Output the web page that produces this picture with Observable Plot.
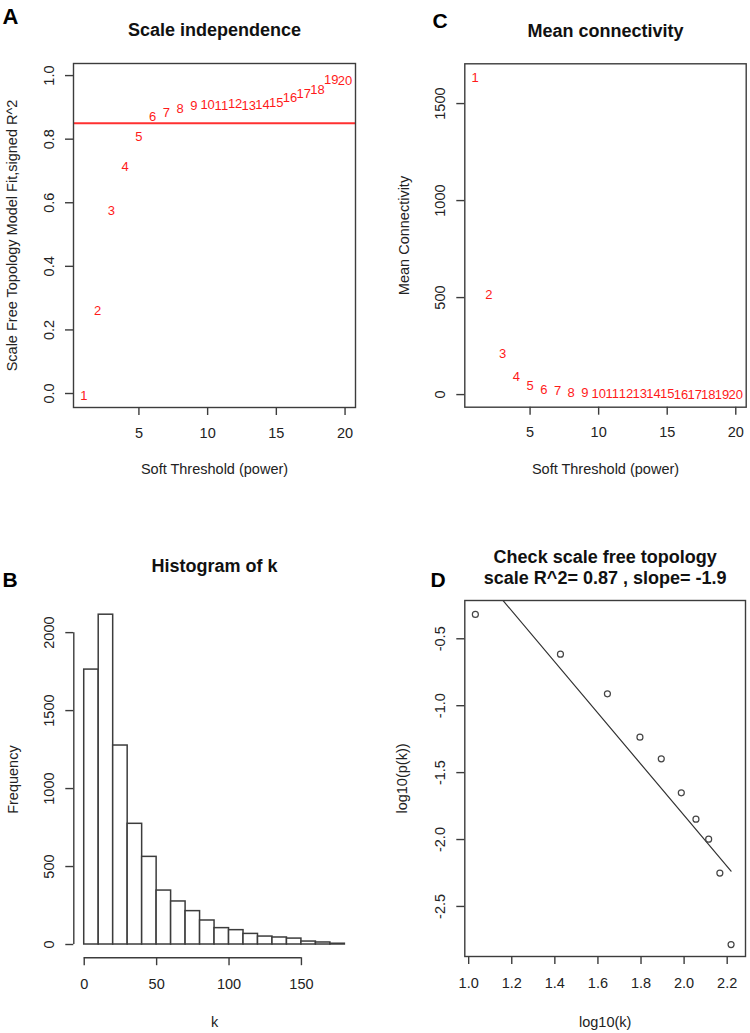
<!DOCTYPE html>
<html>
<head>
<meta charset="utf-8">
<script src="https://cdn.jsdelivr.net/npm/d3@7"></script>
<script src="https://cdn.jsdelivr.net/npm/@observablehq/plot@0.6"></script>
<style>
  body { margin: 0; background: #fff; }
  #wrap { position: relative; width: 750px; height: 1033px; background: #fff; }
  .panel { position: absolute; }
  .panel svg { display: block; overflow: visible; }
</style>
</head>
<body>
<div id="wrap">
  <div class="panel" id="pA" style="left:0;top:0"></div>
  <div class="panel" id="pC" style="left:375px;top:0"></div>
  <div class="panel" id="pB" style="left:0;top:500px"></div>
  <div class="panel" id="pD" style="left:375px;top:500px"></div>
</div>
<script>
// ---------- data ----------
const powers = [1,2,3,4,5,6,7,8,9,10,11,12,13,14,15,16,17,18,19,20];
const signedR2 = [-0.006,0.259,0.575,0.714,0.808,0.869,0.884,0.896,0.905,0.909,0.905,0.911,0.905,0.909,0.915,0.93,0.943,0.956,0.987,0.984];
const meanConnectivity = [1635,515,210,93,46,24,17,11,8,6,4,3,2.5,2,1.5,1.2,1,0.8,0.6,0.5];
const r2Cutoff = 0.85;

const kBreaks = [0,10,20,30,40,50,60,70,80,90,100,110,120,130,140,150,160,170,180];
const kCounts = [1763,2115,1276,774,562,346,276,214,154,105,92,68,51,45,38,19,13,5];

const log10k = [1.031,1.426,1.644,1.795,1.894,1.987,2.055,2.114,2.166,2.218];
const log10pk = [-0.318,-0.615,-0.911,-1.235,-1.397,-1.651,-1.848,-1.997,-2.251,-2.785];

const powerTicks = [5,10,15,20];
const r2Ticks = [0,0.2,0.4,0.6,0.8,1.0];
const connTicks = [0,500,1000,1500];
const kTicks = [0,50,100,150];
const freqTicks = [0,500,1000,1500,2000];
const logkTicks = [1.0,1.2,1.4,1.6,1.8,2.0,2.2];
const logpkTicks = [-0.5,-1.0,-1.5,-2.0,-2.5];

// ---------- tables ----------
const sft = powers.map((p,i) => ({power: p, r2: signedR2[i], k: meanConnectivity[i]}));
const hist = kCounts.map((c,i) => ({x0: kBreaks[i], x1: kBreaks[i+1], count: c}));
const sf = log10k.map((x,i) => ({lk: x, lp: log10pk[i]}));

// ---------- style ----------
const FONT = "'Liberation Sans', Arial, Helvetica, sans-serif";
const LINE = "#3c3c3c";
const TXT = "#222";
const AX = 14.5;
const baseStyle = {fontFamily: FONT, fontSize: AX + "px", color: TXT, background: "#fff", overflow: "visible"};

function xAxis(ticks, fmt, pad) {
  return Plot.axisX({ticks, tickSize: 8, tickPadding: pad, tickFormat: fmt, label: null,
    fontSize: AX, stroke: LINE, fill: TXT, strokeWidth: 1.4});
}
function yAxis(ticks, fmt, pad) {
  return Plot.axisY({ticks, tickSize: 8, tickPadding: pad, tickRotate: -90, tickFormat: fmt, label: null,
    fontSize: AX, stroke: LINE, fill: TXT, strokeWidth: 1.4});
}
function xTitle(t, dy) {
  return Plot.text([t], {text: d => d, frameAnchor: "bottom", dy, textAnchor: "middle", lineAnchor: "middle", fontSize: AX, fill: TXT});
}
function yTitle(t, dx) {
  return Plot.text([t], {text: d => d, frameAnchor: "left", dx, rotate: -90, textAnchor: "middle", lineAnchor: "middle", fontSize: AX, fill: TXT});
}
function mainTitle(t, dy) {
  return Plot.text([t], {text: d => d, frameAnchor: "top", dy, textAnchor: "middle", lineAnchor: "middle",
    fontSize: 18, fontWeight: "bold", fill: "#111", lineHeight: 1.2});
}
function letter(t, dx, dy, size) {
  return Plot.text([t], {text: d => d, frameAnchor: "top-left", dx, dy, textAnchor: "start", lineAnchor: "bottom",
    fontSize: size, fontWeight: "bold", fill: "#000"});
}
const f1 = d => d.toFixed(1);
const f0 = d => String(d);

// ---------- Panel A ----------
const A = Plot.plot({
  width: 375, height: 500,
  marginLeft: 73, marginRight: 20, marginTop: 63, marginBottom: 93,
  x: {domain: [0.24, 20.76], axis: null},
  y: {domain: [-0.044, 1.038], axis: null},
  style: baseStyle,
  marks: [
    Plot.ruleY([r2Cutoff], {stroke: "#ff3030", strokeWidth: 1.8}),
    Plot.text(sft, {x: "power", y: "r2", text: d => String(d.power), fill: "#ff1a1a", fontSize: 13}),
    Plot.frame({stroke: LINE, strokeWidth: 1.4}),
    xAxis(powerTicks, f0, 12),
    yAxis(r2Ticks, f1, 12),
    xTitle("Soft Threshold (power)", 62),
    yTitle("Scale Free Topology Model Fit,signed R^2", -61),
    mainTitle("Scale independence", -34),
    letter("A", -71, -40, 22)
  ]
});
document.getElementById("pA").appendChild(A);

// ---------- Panel C ----------
const C = Plot.plot({
  width: 375, height: 500,
  marginLeft: 89.3, marginRight: 4.3, marginTop: 63.3, marginBottom: 93.3,
  x: {domain: [0.24, 20.76], axis: null},
  y: {domain: [-65, 1705], axis: null},
  style: baseStyle,
  marks: [
    Plot.text(sft, {x: "power", y: "k", text: d => String(d.power), fill: "#ff1a1a", fontSize: 13}),
    Plot.frame({stroke: LINE, strokeWidth: 1.4}),
    xAxis(powerTicks, f0, 12),
    yAxis(connTicks, f0, 12),
    xTitle("Soft Threshold (power)", 62),
    yTitle("Mean Connectivity", -60),
    mainTitle("Mean connectivity", -34),
    letter("C", -32.3, -36.3, 21)
  ]
});
document.getElementById("pC").appendChild(C);

// ---------- Panel B ----------
const histX = [-7.2, 187.2];
const histY = [-84.6, 2199.6];
const B = Plot.plot({
  width: 375, height: 533,
  marginLeft: 73.3, marginRight: 20.2, marginTop: 101, marginBottom: 75.8,
  x: {domain: histX, axis: null},
  y: {domain: histY, axis: null},
  style: baseStyle,
  marks: [
    Plot.rectY(hist, {x1: "x0", x2: "x1", y: "count", fill: "#fff", stroke: LINE, strokeWidth: 1.5}),
    Plot.ruleX([histX[0]], {y1: freqTicks[0], y2: freqTicks[freqTicks.length-1], stroke: LINE, strokeWidth: 1.4}),
    Plot.ruleY([histY[0]], {x1: kTicks[0], x2: kTicks[kTicks.length-1], stroke: LINE, strokeWidth: 1.4}),
    xAxis(kTicks, f0, 13),
    yAxis(freqTicks, f0, 12),
    xTitle("k", 64.5),
    yTitle("Frequency", -60),
    mainTitle("Histogram of k", -36),
    letter("B", -71.3, -15, 21)
  ]
});
document.getElementById("pB").appendChild(B);

// ---------- Panel D ----------
const D = Plot.plot({
  width: 375, height: 533,
  marginLeft: 89.3, marginRight: 5, marginTop: 100, marginBottom: 77,
  x: {domain: [0.982, 2.285], axis: null},
  y: {domain: [-2.874, -0.214], axis: null},
  style: baseStyle,
  marks: [
    Plot.linearRegressionY(sf, {x: "lk", y: "lp", ci: 0, stroke: "#333", strokeWidth: 1.2, clip: true}),
    Plot.dot(sf, {x: "lk", y: "lp", r: 3, fill: "none", stroke: "#444", strokeWidth: 1.2}),
    Plot.frame({stroke: LINE, strokeWidth: 1.4}),
    xAxis(logkTicks, f1, 13),
    yAxis(logpkTicks, f1, 12),
    xTitle("log10(k)", 65.5),
    yTitle("log10(p(k))", -62),
    mainTitle("Check scale free topology\nscale R^2= 0.87 , slope= -1.9", -34),
    letter("D", -34.3, -14, 21)
  ]
});
document.getElementById("pD").appendChild(D);
</script>
</body>
</html>
